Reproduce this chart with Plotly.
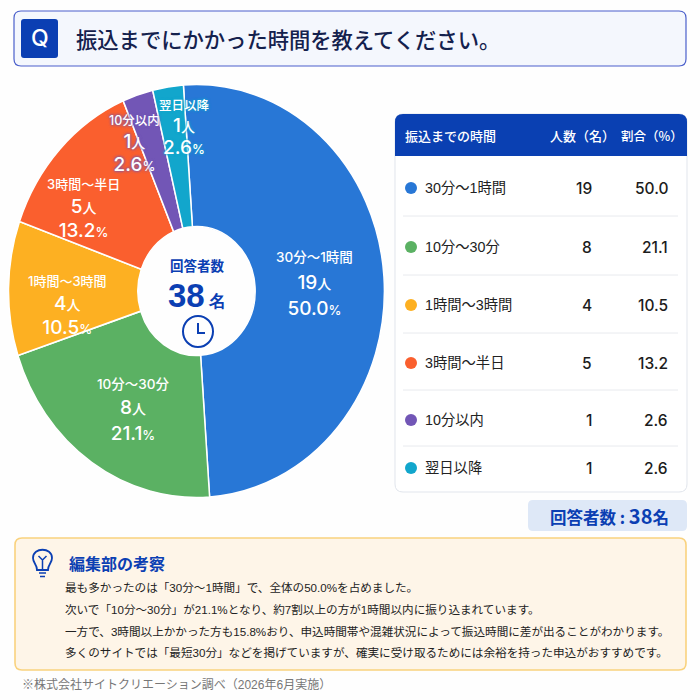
import plotly.graph_objects as go

# Survey results
categories = ["30分～1時間", "10分～30分", "1時間～3時間", "3時間～半日", "10分以内", "翌日以降"]
counts = [19, 8, 4, 5, 1, 1]
shares = [50.0, 21.1, 10.5, 13.2, 2.6, 2.6]
total = 38
colors = ["#2877D6", "#5BB163", "#FDB022", "#FA5F2E", "#7256B6", "#12A6CC"]

title_text = "振込までにかかった時間を教えてください。"
table_heads = ["振込までの時間", "人数（名）", "割合（%）"]
note_title = "編集部の考察"
note_lines = [
    "最も多かったのは「30分～1時間」で、全体の50.0%を占めました。",
    "次いで「10分～30分」が21.1%となり、約7割以上の方が1時間以内に振り込まれています。",
    "一方で、3時間以上かかった方も15.8%おり、申込時間帯や混雑状況によって振込時間に差が出ることがわかります。",
    "多くのサイトでは「最短30分」などを掲げていますが、確実に受け取るためには余裕を持った申込がおすすめです。",
]
footer = "※株式会社サイトクリエーション調べ（2026年6月実施）"

FONT = "Liberation Sans, Noto Sans CJK JP"
NUM_FONT = "Inter, Noto Sans CJK JP"
CJK = "Noto Sans CJK JP"
NAVY = "#0B3FB3"
INK = "#14214D"

# Slice captions: centre x, centre y, line pitch (as a base font size), caption size
caption_layout = [
    (314, 284, 20.5, 13.5),
    (133, 410, 19.5, 13.5),
    (67, 306, 18.5, 13),
    (83, 209, 18.5, 13),
    (134, 144, 17.5, 12.5),
    (184, 128, 17, 12.5),
]
caption_shadow = [False, False, False, False, True, True]

# Table layout
row_centres = [188, 247, 305, 363, 420, 468]
row_rules = [216, 275, 333, 390, 446]
note_ys = [587, 609, 631, 652]

# The pie is laid out as a circle, then stretched to its final oval height
PIE_CX, PIE_CY, PIE_RX, PIE_RY = 196.5, 291.0, 188.0, 206.5


def rounded(x0, y0, x1, y1, r):
    return (f"M{x0+r},{y0} L{x1-r},{y0} Q{x1},{y0} {x1},{y0+r} L{x1},{y1-r} Q{x1},{y1} {x1-r},{y1} "
            f"L{x0+r},{y1} Q{x0},{y1} {x0},{y1-r} L{x0},{y0+r} Q{x0},{y0} {x0+r},{y0} Z")


def top_rounded(x0, y0, x1, y1, r):
    return (f"M{x0+r},{y0} L{x1-r},{y0} Q{x1},{y0} {x1},{y0+r} L{x1},{y1} L{x0},{y1} "
            f"L{x0},{y0+r} Q{x0},{y0} {x0+r},{y0} Z")


shapes = []
annotations = []


def box(path, fill, line=None, width=1):
    shapes.append(dict(type="path", path=path, fillcolor=fill, layer="below",
                       line=dict(color=line or fill, width=width if line else 0)))


def stroke(path, color=NAVY, width=2):
    shapes.append(dict(type="path", path=path, layer="above", line=dict(color=color, width=width)))


def label(x, y, text, size, color="#222222", anchor="left", weight=400, shadow=None, family=FONT):
    font = dict(family=family, size=size, color=color, weight=weight)
    if shadow:
        font["shadow"] = shadow
    annotations.append(dict(x=x, y=y, xref="x", yref="y", text=text, showarrow=False,
                            xanchor=anchor, yanchor="middle", font=font, borderpad=0, borderwidth=0))


def sized(text, size):
    return f"<span style='font-size:{size}px'>{text}</span>"


# Question header
box(rounded(14, 11, 686, 66, 7), "#F4F7FD", "#4A5FCB", 1.2)
box(rounded(21, 19, 58, 58, 3), "#0B3FB3")
label(39.5, 38, "Q", 23, "#FFFFFF", "center", 500, family="Inter")
label(76, 38, title_text, 21.3, INK, "left", 500, family=CJK)

# Slice captions
for i, (cx, cy, pitch, cap) in enumerate(caption_layout):
    halo = f"0 0 3px {colors[i]}, 0 0 3px {colors[i]}" if caption_shadow[i] else None
    text = "<br>".join([
        sized(categories[i], cap),
        f"{sized(counts[i], 19)}{sized('人', 14)}",
        f"{sized(f'{shares[i]:.1f}', 19)}{sized('%', 13)}",
    ])
    label(cx, cy, text, pitch, "#FFFFFF", "center", 500, halo, family=NUM_FONT)

# Respondent count in the centre of the ring
label(197, 265, "回答者数", 13.5, NAVY, "center", 700, family=CJK)
label(197, 295, f"{total}{sized(' 名', 17)}", 33, NAVY, "center", 700, family="Liberation Sans")
shapes.append(dict(type="circle", x0=183, x1=213, y0=316, y1=347, layer="above",
                   line=dict(color=NAVY, width=2)))
stroke("M198,323 L198,333 L205,333")

# Results table
box(rounded(395, 114, 687, 492, 8), "#FFFFFF", "#E1E5EC", 1)
box(top_rounded(395, 114, 687, 156, 8), "#0A40B2")
label(405, 135, table_heads[0], 13, "#FFFFFF", "left", 500, family=CJK)
label(582, 135, table_heads[1], 13, "#FFFFFF", "center", 500, family=CJK)
label(652, 135, table_heads[2], 12.5, "#FFFFFF", "center", 500, family=CJK)
for y in row_rules:
    shapes.append(dict(type="line", x0=403, x1=678, y0=y, y1=y, layer="below",
                       line=dict(color="#E8EAEE", width=1)))
for cat, n, pct, y in zip(categories, counts, shares, row_centres):
    label(425, y, cat, 14.3, "#222222")
    label(592, y, str(n), 15.5, "#1C1C1C", "right", 500, family=NUM_FONT)
    label(668, y, f"{pct:.1f}", 15.5, "#1C1C1C", "right", 500, family=NUM_FONT)

# Respondent badge
box(rounded(528, 500, 687, 531, 5), "#DEE8F7")
label(609, 515, f"回答者数 : {sized(total, 20)}名", 16.5, NAVY, "center", 700, family=CJK)

# Editorial note
box(rounded(15, 538, 686, 670, 7), "#FEF5E8", "#F9D27E", 1.6)
label(69, 563, note_title, 16, NAVY, "left", 700, family=CJK)
for text, y in zip(note_lines, note_ys):
    label(65, y, text, 11.6, "#222222")
label(22, 684, footer, 12, "#777777")

# Light bulb beside the note title
stroke("M37,570 C37,564 33,563 33,558 C33,547 52,547 52,558 C52,563 48,564 48,570 Z", width=1.8)
stroke("M39,573 L46,573 M40,576.5 L45,576.5 M42.5,570 L42.5,559 M38.5,556 L42.5,560 L46.5,556", width=1.5)

fig = go.Figure()
fig.add_trace(go.Pie(
    values=counts,
    labels=categories,
    marker=dict(colors=colors, line=dict(color="#FFFFFF", width=1.5)),
    sort=False,
    direction="clockwise",
    rotation=-4,
    hole=0.312,
    textinfo="none",
    showlegend=False,
    domain=dict(
        x=[(PIE_CX - PIE_RX) / 700, (PIE_CX + PIE_RX) / 700],
        y=[1 - (PIE_CY + PIE_RX) / 700, 1 - (PIE_CY - PIE_RX) / 700],
    ),
))
# Legend dots in the table rows
fig.add_trace(go.Scatter(
    x=[411] * len(categories),
    y=row_centres,
    mode="markers",
    marker=dict(size=12, color=colors),
    showlegend=False,
    hoverinfo="skip",
))
fig.update_layout(
    width=700, height=700,
    margin=dict(l=0, r=0, t=0, b=0),
    paper_bgcolor="#FEFEFE", plot_bgcolor="#FEFEFE",
    xaxis=dict(range=[0, 700], visible=False, fixedrange=True),
    yaxis=dict(range=[700, 0], visible=False, fixedrange=True),
    shapes=shapes,
    annotations=annotations,
    font=dict(family=FONT),
)

stretch = f"""
var g = document.querySelector('.pielayer');
if (g) {{
  g.setAttribute('transform',
    'translate(0,{PIE_CY}) scale(1,{PIE_RY / PIE_RX:.4f}) translate(0,{-PIE_CY})');
}}
"""
fig.write_html("out.html", post_script=stretch, config=dict(displayModeBar=False))
